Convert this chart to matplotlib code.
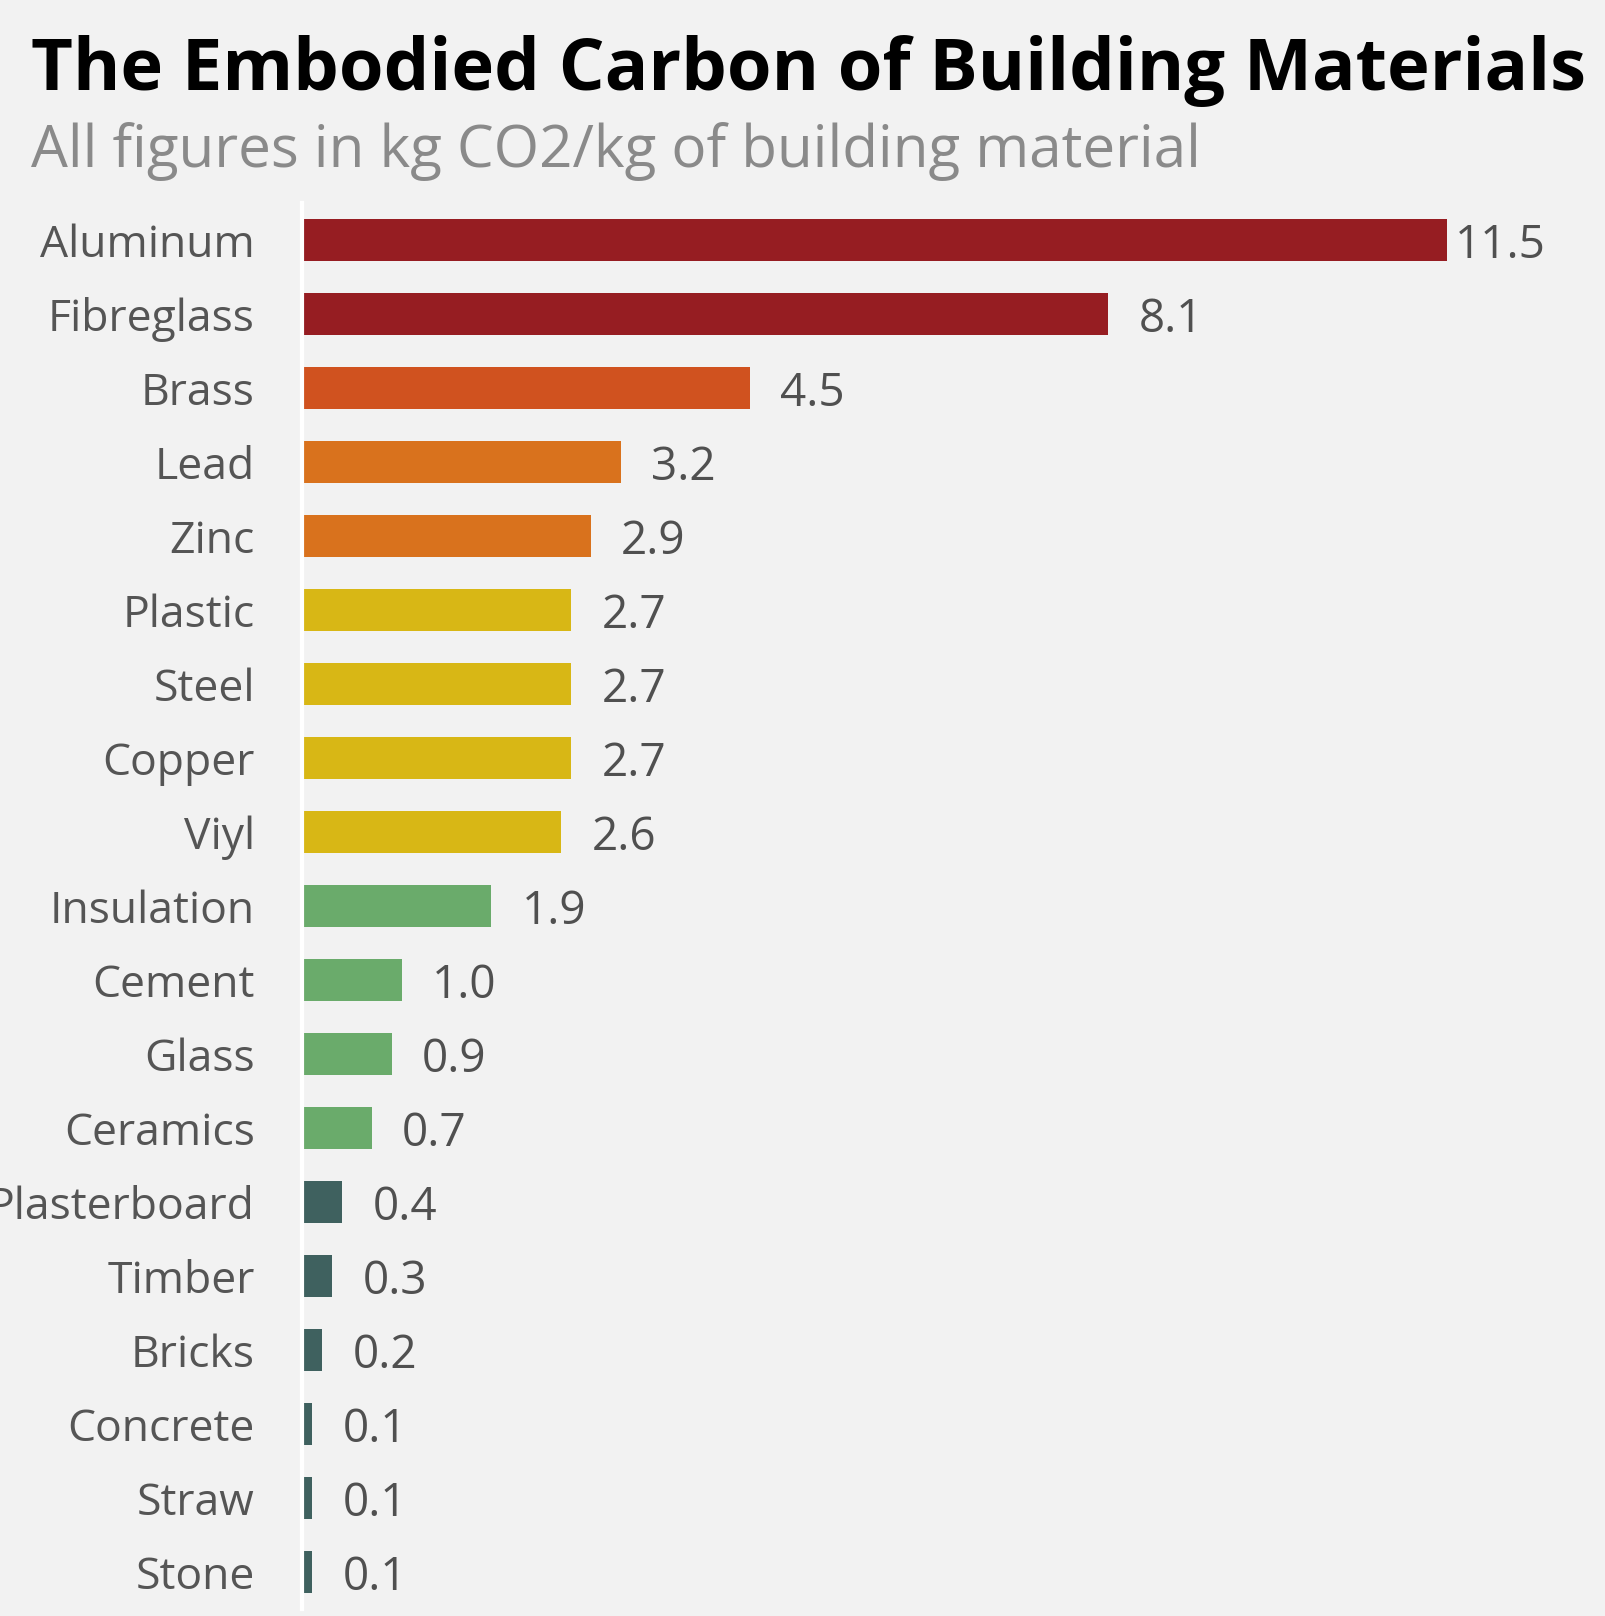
import numpy as np
import matplotlib.pyplot as plt

# Embodied carbon, kg CO2 per kg of material
materials = ["Aluminum", "Fibreglass", "Brass", "Lead", "Zinc", "Plastic", "Steel",
             "Copper", "Viyl", "Insulation", "Cement", "Glass", "Ceramics",
             "Plasterboard", "Timber", "Bricks", "Concrete", "Straw", "Stone"]
values = [11.5, 8.1, 4.5, 3.2, 2.9, 2.7, 2.7, 2.7, 2.6, 1.9, 1.0, 0.9, 0.7,
          0.4, 0.3, 0.2, 0.1, 0.1, 0.1]
groups = [0, 0, 1, 2, 2, 3, 3, 3, 3, 4, 4, 4, 4, 5, 5, 5, 5, 5, 5]
group_colors = ["#961d22", "#d0521f", "#d9721d", "#d8b715", "#6aab6b", "#3f615f"]

bg = "#f2f2f2"
plt.rcParams['font.family'] = ['Open Sans', 'DejaVu Sans']

fig = plt.figure(figsize=(16.06, 16.16), dpi=100, facecolor=bg)
ax = fig.add_axes([302 / 1606, 7 / 1616, 1 - 302 / 1606, (1616 - 203 - 7) / 1616])
ax.set_facecolor(bg)

y = np.arange(len(materials))
colors = [group_colors[g] for g in groups]
ax.barh(y, values, height=0.58, color=colors)

for yi, v in zip(y, values):
    off = 6 if v > 10 else 22
    ax.annotate(f"{v:.1f}", (v, yi), xytext=(off, -4), textcoords="offset points",
                va="center", ha="left", fontsize=33, color="#505050")

ax.set_xlim(0, 13.1)
ax.set_ylim(len(materials) - 0.5, -0.5)
ax.set_yticks(y)
ax.set_yticklabels(materials, fontsize=32, color="#555555")
ax.tick_params(axis="y", length=0, pad=34)
ax.set_xticks([])
for s in ["top", "right", "bottom"]:
    ax.spines[s].set_visible(False)
ax.spines["left"].set_color("white")
ax.spines["left"].set_linewidth(3)

fig.text(31 / 1606, 1 - 90 / 1616, "The Embodied Carbon of Building Materials",
         fontsize=52, fontweight="bold", color="black", va="baseline", ha="left")
fig.text(31 / 1606, 1 - 167 / 1616, "All figures in kg CO2/kg of building material",
         fontsize=42, color="#8a8a8a", va="baseline", ha="left")

fig.savefig("out.png", dpi=100, facecolor=bg)
